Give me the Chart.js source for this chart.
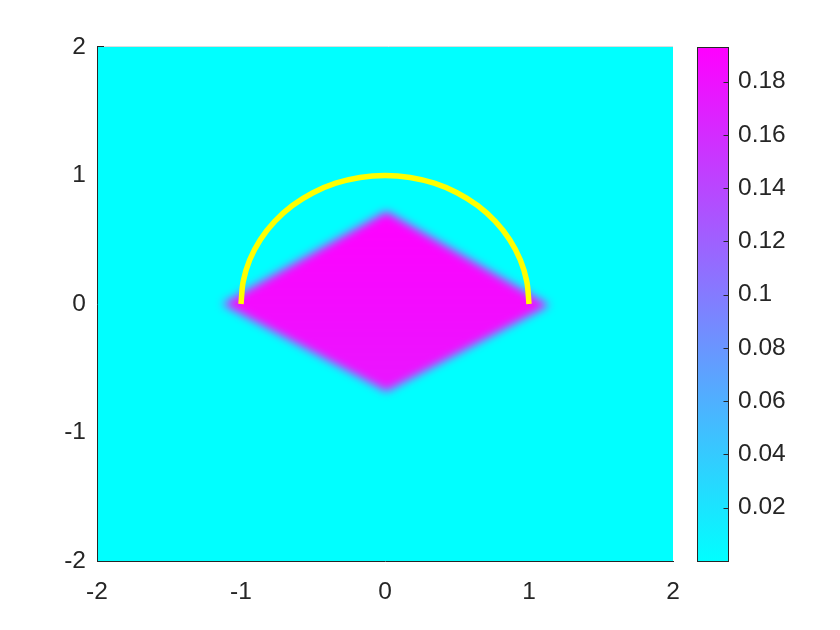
<!DOCTYPE html>
<html>
<head>
<meta charset="utf-8">
<script src="https://cdn.jsdelivr.net/npm/chart.js@4"></script>
<style>
    html, body { margin: 0; padding: 0; background: #ffffff; }
    #wrap { width: 840px; height: 630px; }
</style>
</head>
<body>
<div id="wrap"><canvas id="myChart" width="840" height="630"></canvas></div>
<script>
// axes ticks
var xTicks = [-2, -1, 0, 1, 2];
var yTicks = [-2, -1, 0, 1, 2];

// colour scale (cool colormap)
var cbMin = 0.0;
var cbMax = 0.193;
var cbTicks = [0.02, 0.04, 0.06, 0.08, 0.1, 0.12, 0.14, 0.16, 0.18];

// field: flat background and the raised diamond
var fieldBackground = 0.0;
var diamondX = [-1.13, 0.01, 1.14, 0.01];
var diamondY = [0.0, 0.72, -0.01, -0.68];
var diamondTopValue = 0.193;
var diamondBottomValue = 0.176;

// yellow half circle (r = 1), read every 10 degrees
var arcX = [-1, -0.985, -0.940, -0.866, -0.766, -0.643, -0.5, -0.342, -0.174, 0,
            0.174, 0.342, 0.5, 0.643, 0.766, 0.866, 0.940, 0.985, 1];
var arcY = [0, 0.174, 0.342, 0.5, 0.643, 0.766, 0.866, 0.940, 0.985, 1,
            0.985, 0.940, 0.866, 0.766, 0.643, 0.5, 0.342, 0.174, 0];

var txtColor = '#262626';
var fontTick = { family: "'Liberation Sans', Arial, sans-serif", size: 24.5 };

function cool(v) {
    var t = (v - cbMin) / (cbMax - cbMin);
    t = Math.max(0, Math.min(1, t));
    return 'rgb(' + Math.round(255 * t) + ',' + Math.round(255 * (1 - t)) + ',255)';
}

function toPoints(xs, ys) {
    var out = [];
    for (var i = 0; i < xs.length; i++) {
        out.push({ x: xs[i], y: ys[i] });
    }
    return out;
}

function fixTicks(list) {
    return function (scale) {
        scale.ticks = list.map(function (v) { return { value: v }; });
    };
}

var heatPlugin = {
    id: 'heat',
    beforeDraw: function (chart) {
        var ctx = chart.ctx;
        var a = chart.chartArea;
        var sy = chart.scales.y;
        var sc = chart.scales.c;

        ctx.save();
        ctx.beginPath();
        ctx.rect(a.left, a.top, a.right - a.left, a.bottom - a.top);
        ctx.clip();
        ctx.fillStyle = cool(fieldBackground);
        ctx.fillRect(a.left, a.top, a.right - a.left, a.bottom - a.top);

        var pts = chart.getDatasetMeta(1).data;
        var g = ctx.createLinearGradient(0, sy.getPixelForValue(diamondY[1]), 0, sy.getPixelForValue(diamondY[3]));
        g.addColorStop(0, cool(diamondTopValue));
        g.addColorStop(1, cool(diamondBottomValue));
        ctx.filter = 'blur(5px)';
        ctx.fillStyle = g;
        ctx.beginPath();
        for (var i = 0; i < pts.length; i++) {
            if (i == 0) ctx.moveTo(pts[i].x, pts[i].y);
            else ctx.lineTo(pts[i].x, pts[i].y);
        }
        ctx.closePath();
        ctx.fill();
        ctx.filter = 'none';
        ctx.restore();

        // colour bar
        var cTop = sc.getPixelForValue(cbMax);
        var cBot = sc.getPixelForValue(cbMin);
        var cl = a.right + 24.5;
        var cr = a.right + 55.5;
        var cg = ctx.createLinearGradient(0, cBot, 0, cTop);
        cg.addColorStop(0, cool(cbMin));
        cg.addColorStop(1, cool(cbMax));
        ctx.save();
        ctx.fillStyle = cg;
        ctx.fillRect(cl, cTop, cr - cl, cBot - cTop);
        ctx.strokeStyle = txtColor;
        ctx.lineWidth = 1;
        ctx.strokeRect(cl, Math.round(cTop) + 0.5, cr - cl, Math.round(cBot) - Math.round(cTop));
        ctx.beginPath();
        for (var k = 0; k < cbTicks.length; k++) {
            var ty = Math.round(sc.getPixelForValue(cbTicks[k])) + 0.5;
            ctx.moveTo(cr - 5, ty);
            ctx.lineTo(cr, ty);
        }
        ctx.stroke();
        ctx.restore();
    },
    afterDraw: function (chart) {
        var ctx = chart.ctx;
        var a = chart.chartArea;
        ctx.save();
        ctx.lineWidth = 1;
        ctx.strokeStyle = '#dcdcdc';
        ctx.beginPath();
        ctx.moveTo(a.left + 7, a.top - 0.5);
        ctx.lineTo(a.right, a.top - 0.5);
        ctx.stroke();
        ctx.strokeStyle = txtColor;
        ctx.beginPath();
        ctx.moveTo(a.left, a.top - 0.5);
        ctx.lineTo(a.left + 7, a.top - 0.5);
        ctx.stroke();
        ctx.restore();
    }
};

var ctx = document.getElementById('myChart').getContext('2d');
var myChart = new Chart(ctx, {
    type: 'scatter',
    data: {
        datasets: [{
            label: 'arc',
            data: toPoints(arcX, arcY),
            showLine: true,
            borderColor: '#ffff00',
            borderWidth: 5.5,
            borderCapStyle: 'butt',
            tension: 0.33,
            pointRadius: 0,
            fill: false
        }, {
            label: 'diamond',
            data: toPoints(diamondX, diamondY),
            showLine: false,
            pointRadius: 0,
            pointHoverRadius: 0
        }]
    },
    options: {
        responsive: false,
        animation: false,
        events: [],
        layout: { padding: { left: 10, right: 47, top: 47, bottom: 10 } },
        plugins: {
            legend: { display: false },
            tooltip: { enabled: false }
        },
        scales: {
            x: {
                type: 'linear',
                min: -2,
                max: 2,
                afterBuildTicks: fixTicks(xTicks),
                afterFit: function (s) { s.height = 59; },
                grid: { display: false, drawTicks: true, tickLength: 8 },
                border: { color: txtColor, width: 1 },
                ticks: {
                    color: txtColor, font: fontTick, padding: 9, maxRotation: 0,
                    callback: function (v) { return String(v); }
                }
            },
            y: {
                type: 'linear',
                position: 'left',
                min: -2,
                max: 2,
                afterBuildTicks: fixTicks(yTicks),
                afterFit: function (s) { s.width = 87; },
                grid: { display: false, drawTicks: true, tickLength: 8 },
                border: { color: txtColor, width: 1 },
                ticks: {
                    color: txtColor, font: fontTick, padding: 3,
                    callback: function (v) { return String(v); }
                }
            },
            c: {
                type: 'linear',
                position: 'right',
                min: cbMin,
                max: cbMax,
                afterBuildTicks: fixTicks(cbTicks),
                afterFit: function (s) { s.width = 120; },
                grid: { display: false, drawTicks: true, tickLength: 65 },
                border: { display: false },
                ticks: {
                    color: txtColor, font: fontTick, padding: 0,
                    callback: function (v) { return String(v); }
                }
            }
        }
    },
    plugins: [heatPlugin]
});
</script>
</body>
</html>
